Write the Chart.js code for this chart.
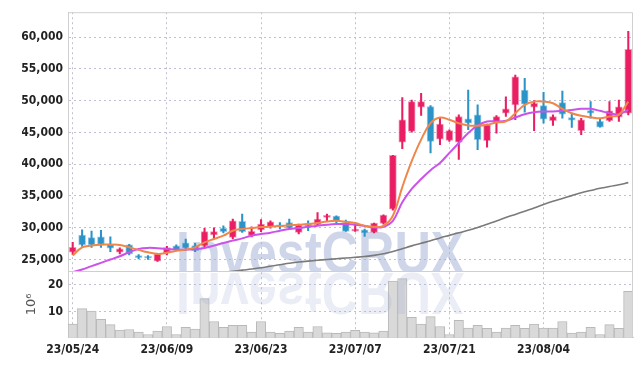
<!DOCTYPE html>
<html><head><meta charset="utf-8">
<script src="https://cdn.jsdelivr.net/npm/chart.js@4.4.0/dist/chart.umd.min.js"></script>
<style>html,body{margin:0;padding:0;background:#fff;}#wrap{width:642px;height:366px;position:relative;}</style>
</head><body><div id="wrap"><canvas id="c"></canvas></div>
<script>
const labels = ['23/05/24','23/05/25','23/05/26','23/05/30','23/05/31','23/06/01','23/06/02','23/06/05','23/06/07','23/06/08',
'23/06/09','23/06/12','23/06/13','23/06/14','23/06/15','23/06/16','23/06/19','23/06/20','23/06/21','23/06/22',
'23/06/23','23/06/26','23/06/27','23/06/28','23/06/29','23/06/30','23/07/03','23/07/04','23/07/05','23/07/06',
'23/07/07','23/07/10','23/07/11','23/07/12','23/07/13','23/07/14','23/07/17','23/07/18','23/07/19','23/07/20',
'23/07/21','23/07/24','23/07/25','23/07/26','23/07/27','23/07/28','23/07/31','23/08/01','23/08/02','23/08/03',
'23/08/04','23/08/07','23/08/08','23/08/09','23/08/10','23/08/11','23/08/14','23/08/16','23/08/17','23/08/18'];

const openP  = [26140,28860,28440,28590,27450,26140,27300,25625,25470,24740,
25990,27140,27610,27190,27190,28860,29900,28480,30990,28800,
29640,30160,30470,30830,29270,30470,30470,31620,31830,30830,
29480,29690,29270,30670,32920,43480,45160,48950,49060,43950,
43750,43480,47140,47760,43700,46560,48020,49340,51670,48950,
49220,46830,49690,47340,45270,48440,46720,46830,47390,48020];
const highP  = [27700,29690,29480,29580,28590,26830,27400,25780,25625,25990,
27080,27300,28230,27550,29890,30000,30310,31360,32140,30160,
31300,31090,30830,31360,30570,31090,32390,32140,31880,31200,
30830,29800,30730,32030,41410,50470,50100,51140,49200,47340,
45420,47760,51670,49330,46300,47660,50600,54020,53490,50000,
51300,47760,51510,48020,47230,49840,47140,49840,50100,60890];
const lowP   = [25780,27080,26920,26920,26250,25890,25730,25110,25000,24690,
25730,26360,26450,26250,27030,28330,29170,28230,29270,28550,
29400,29950,29800,29800,29020,29530,30310,31090,30570,29430,
29430,28640,29170,30570,32760,42450,45050,47660,41770,43080,
43590,40730,45420,42300,42660,44890,47500,47000,48170,45270,
46450,46090,47230,45780,44640,47230,45830,46720,46720,47760];
const closeP = [26920,27300,27300,27390,26770,26670,25890,25310,25200,25890,
26880,26520,26770,26410,29380,29380,29380,31090,29380,29430,
30570,30940,30160,29950,30470,30260,31360,31720,31090,29430,
29640,29170,30730,31980,41410,46980,49840,49840,43590,46300,
45270,47500,46450,43860,46200,47500,48700,53750,49420,49580,
47080,47500,47860,46920,46980,48020,45830,48390,49020,58080];

const ma5 = [25625,26920,27190,27340,27340,27300,26920,26520,26140,25890,
26050,26360,26560,26920,27700,28230,28750,29530,29800,29950,
30100,30160,30260,30400,30470,30570,30730,30990,31090,30940,
30730,30310,30160,30310,31880,36400,40470,43860,46450,47340,
46980,46450,46090,46050,46200,46560,46720,48020,49340,49840,
49840,49580,48700,48020,47610,47390,47230,47500,47760,49840];
const ma20 = [23020,23440,23960,24480,25000,25520,26140,26670,26830,26770,
26670,26560,26560,26620,26830,27190,27600,27970,28330,28750,
29000,29220,29530,29800,29950,30160,30310,30470,30570,30570,
30470,30260,30050,30160,31090,34000,36100,37660,39060,40200,
41770,43330,44890,46090,46720,46720,46830,47340,47860,48170,
48280,48280,48390,48540,48700,48700,48390,48020,47860,48540];
const maLong = [null,null,null,null,null,null,null,null,null,null,
null,null,null,null,null,null,22950,23150,23330,23500,
23700,23950,24170,24420,24600,24750,24880,25000,25120,25230,
25350,25480,25650,25900,26250,26700,27150,27550,27950,28400,
28800,29200,29600,30050,30550,31050,31600,32100,32600,33100,
33650,34150,34600,35050,35500,35850,36200,36500,36750,37100];

const volume = [5.6,11.2,10.3,7.3,5.4,3.4,3.6,2.7,1.8,3.0,
4.7,1.8,4.4,3.8,14.8,6.5,4.4,5.1,5.1,2.7,
6.5,2.7,2.2,3.0,4.4,2.7,4.7,2.4,2.2,2.7,
3.3,2.7,2.4,3.0,21.2,22.1,8.0,5.6,8.3,4.7,
1.8,6.9,4.1,5.1,4.0,2.7,4.1,5.1,4.0,5.6,
4.1,4.1,6.5,2.3,2.7,4.4,1.8,5.4,4.0,17.5];

const priceTicks = [25000,30000,35000,40000,45000,50000,55000,60000];
const volTicks = [10,20];
const watermarkText = 'InvestCRUX';

const UP = '#e91e63', DOWN = '#2b93c8';
const UP_EDGE = 'rgba(233,30,99,0.45)', DOWN_EDGE = 'rgba(43,147,200,0.45)';
const candleColor = openP.map((o,i)=> closeP[i] >= o ? UP : DOWN);
const candleEdge = openP.map((o,i)=> closeP[i] >= o ? UP_EDGE : DOWN_EDGE);

const tickFont = {family:"'DejaVu Sans Condensed','DejaVu Sans',sans-serif", weight:'bold', size:12};
const GRID = 'rgba(185,185,205,0.9)';
const BORDER = '#cfcfcf';

const framePlugin = {
  id:'frame',
  beforeDatasetsDraw(chart){
    const {ctx} = chart; const y = chart.scales.y;
    const a = chart.chartArea;
    ctx.save();
    ctx.beginPath(); ctx.rect(a.left, a.top, a.right-a.left, y.bottom-a.top); ctx.clip();
    ctx.font = "bold 60px 'Liberation Sans', sans-serif";
    ctx.fillStyle = 'rgba(160,174,212,0.5)';
    ctx.textBaseline = 'alphabetic';
    ctx.translate(176, y.bottom+2);
    ctx.scale(0.84,1);
    ctx.fillText(watermarkText, 0, 0);
    ctx.restore();
  },
  afterDatasetsDraw(chart){
    const {ctx} = chart; const y = chart.scales.y;
    const a = chart.chartArea;
    ctx.save();
    ctx.beginPath(); ctx.rect(a.left, y.bottom, a.right-a.left, a.bottom-y.bottom); ctx.clip();
    ctx.font = "bold 60px 'Liberation Sans', sans-serif";
    ctx.fillStyle = 'rgba(160,174,212,0.22)';
    ctx.translate(176, y.bottom+2);
    ctx.scale(0.84,-1);
    ctx.fillText(watermarkText, 0, 0);
    ctx.restore();
    ctx.save();
    ctx.strokeStyle = BORDER; ctx.lineWidth = 1;
    ctx.beginPath();
    ctx.moveTo(a.left, a.top+0.5); ctx.lineTo(a.right-0.5, a.top+0.5); ctx.lineTo(a.right-0.5, a.bottom);
    ctx.moveTo(a.left, Math.round(y.bottom)+0.5); ctx.lineTo(a.right, Math.round(y.bottom)+0.5);
    ctx.stroke();
    ctx.restore();
  }
};

new Chart(document.getElementById('c'), {
  data: {
    labels: labels,
    datasets: [
      {type:'line', label:'MA5', data:ma5, yAxisID:'y', borderColor:'#f0874a', borderWidth:2, pointRadius:0, tension:0.4, order:0},
      {type:'line', label:'MA20', data:ma20, yAxisID:'y', borderColor:'#cb52ea', borderWidth:2, pointRadius:0, tension:0.4, order:0},
      {type:'line', label:'MA120', data:maLong, yAxisID:'y', borderColor:'#7a7a7a', borderWidth:1.6, pointRadius:0, tension:0.4, order:0, spanGaps:false},
      {type:'bar', label:'body', data:openP.map((o,i)=>[o,closeP[i]]), yAxisID:'y', backgroundColor:candleColor, borderColor:candleEdge, borderWidth:1, borderSkipped:false, barThickness:7, grouped:false, minBarLength:2, order:1},
      {type:'bar', label:'wick', data:lowP.map((l,i)=>[l,highP[i]]), yAxisID:'y', backgroundColor:candleColor, barThickness:1.4, grouped:false, order:2},
      {type:'bar', label:'volume', data:volume, yAxisID:'yv', backgroundColor:'#d9d9d9', borderColor:'#b9b9b9', borderWidth:1, borderSkipped:false, barPercentage:1, categoryPercentage:1, grouped:false, order:3}
    ]
  },
  options: {
    responsive:true, maintainAspectRatio:false, animation:false,
    layout:{padding:{left:22, right:9, top:10, bottom:0}},
    plugins:{legend:{display:false}, tooltip:{enabled:false}},
    scales:{
      x:{type:'category', offset:true,
         grid:{offset:false, drawTicks:false, color:(c)=> (c.index%10===0 ? GRID : 'transparent')},
         border:{color:BORDER, dash:[2,3]},
         ticks:{autoSkip:false, maxRotation:0, padding:5, color:'#222', font:tickFont,
                callback:(v,i)=> i%10===0 ? labels[i] : ''},
         afterFit:(ax)=>{ax.height = 28.5;}
      },
      yv:{type:'linear', position:'left', stack:'main', stackWeight:66.5, min:0.7, max:24.7, offset:false,
         grid:{drawTicks:false, color:GRID}, border:{color:BORDER, dash:[2,3]},
         ticks:{padding:5, color:'#222', font:tickFont, callback:(v)=> String(v)},
         afterBuildTicks:(ax)=>{ax.ticks = volTicks.map(v=>({value:v}));},
         title:{display:true, text:'10⁶', color:'#555', font:{family:'DejaVu Sans', size:13}, padding:{top:2,bottom:0}},
         afterFit:(ax)=>{ax.width = 46;}
      },
      y:{type:'linear', position:'left', stack:'main', stackWeight:261, min:23125, max:63906,
         grid:{drawTicks:false, color:GRID}, border:{color:BORDER, dash:[2,3]},
         ticks:{includeBounds:false, stepSize:5000, padding:5, color:'#222', font:tickFont,
                callback:(v)=> v.toLocaleString('en-US')},
         afterBuildTicks:(ax)=>{ax.ticks = priceTicks.map(v=>({value:v}));},
         afterFit:(ax)=>{ax.width = 46;}
      }
    }
  },
  plugins:[framePlugin]
});
</script>
</body></html>
